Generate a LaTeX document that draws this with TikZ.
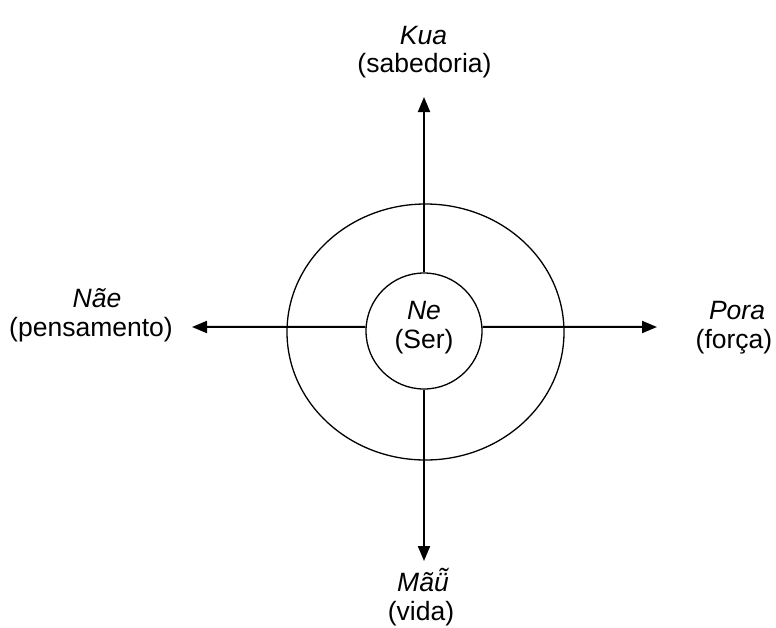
\documentclass[tikz,border=0pt]{standalone}
\usepackage{fontspec}
\setmainfont{Liberation Sans}
\usetikzlibrary{arrows.meta,shapes.geometric}
\tikzset{
  ring/.style={draw=black,line width=1.3pt,inner sep=0pt},
  arr/.style={draw=black,line width=2pt,-{Triangle[length=15pt,width=12pt]}},
  lbl/.style={anchor=base,inner sep=0pt,font=\fontsize{26.5}{31}\selectfont},
  nmlbl/.style={anchor=base,inner sep=0pt,font=\fontsize{26.5}{31}\selectfont\itshape}
}
\begin{document}
\begin{tikzpicture}[x=1pt,y=-1pt]
\useasboundingbox (0,0) rectangle (776,627);
\node[ring,ellipse,minimum width=277pt,minimum height=256pt] (outer) at (425.5,332) {};
\node[ring,circle,minimum size=116pt] (ne) at (424,331) {};
\coordinate (tipN) at (424,97);
\coordinate (tipS) at (424,561);
\coordinate (tipW) at (192,327);
\coordinate (tipE) at (657,327);
\draw[arr] (ne.north) -- (tipN);
\draw[arr] (ne.south) -- (tipS);
\draw[arr] (ne.176) -- (tipW);
\draw[arr] (ne.4) -- (tipE);
\node[nmlbl] (nename) at (424,319) {Ne};
\node[lbl] (neser) at (424,348) {(Ser)};
\node[nmlbl] (kua) at (423.5,44) {Kua};
\node[lbl] (kuab) at (424.5,72) {(sabedoria)};
\node[nmlbl] (nae) at (97,307) {Nãe};
\node[lbl] (naeb) at (91,336) {(pensamento)};
\node[nmlbl] (pora) at (737,319) {Pora};
\node[lbl] (porab) at (734,348) {(força)};
\node[nmlbl] (mau) at (423,591) {Mãü̃};
\node[lbl] (maub) at (421,620) {(vida)};
\end{tikzpicture}
\end{document}
